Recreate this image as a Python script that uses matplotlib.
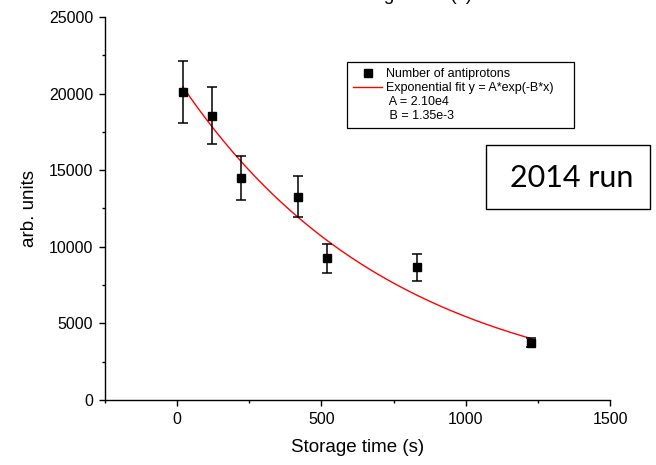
import numpy as np
import matplotlib
matplotlib.use("Agg")
import matplotlib.pyplot as plt
from matplotlib.ticker import MultipleLocator
from matplotlib.lines import Line2D
from matplotlib.patches import Rectangle

plt.rcParams['font.family'] = ['Liberation Sans', 'DejaVu Sans']

# Data
storage_time = [20, 120, 220, 420, 520, 830, 1225]
antiprotons = [20100, 18550, 14500, 13270, 9250, 8650, 3750]
errors = [2000, 1870, 1440, 1320, 930, 850, 300]
fit_A = 2.10e4
fit_B = 1.35e-3
x_ticks = [0, 500, 1000, 1500]
y_ticks = [0, 5000, 10000, 15000, 20000, 25000]

fig = plt.figure(figsize=(6.56, 4.65), dpi=100)
ax = fig.add_axes([105/656, 1-400/465, (610-105)/656, (400-17)/465])

ax.errorbar(storage_time, antiprotons, yerr=errors, fmt='s', color='black',
            ms=5.5, ecolor='black', elinewidth=1.1, capsize=3.3, capthick=1.1,
            zorder=3)
xf = np.linspace(storage_time[0], storage_time[-1], 300)
ax.plot(xf, fit_A*np.exp(-fit_B*xf), color='red', lw=1.0, zorder=2)

ax.set_xlim(-250, 1500)
ax.set_ylim(0, 25000)
ax.set_xticks(x_ticks)
ax.set_yticks(y_ticks)
ax.xaxis.set_minor_locator(MultipleLocator(250))
ax.yaxis.set_minor_locator(MultipleLocator(2500))
ax.spines['top'].set_visible(False)
ax.spines['right'].set_visible(False)
for s in ['left', 'bottom']:
    ax.spines[s].set_linewidth(1.0)
ax.tick_params(which='major', direction='out', length=4.5, width=1.0, labelsize=11.5, pad=4)
ax.tick_params(which='minor', direction='out', length=2.5, width=1.0)
ax.set_xlabel('Storage time (s)', fontsize=13.5, labelpad=9)
ax.set_ylabel('arb. units', fontsize=13.5, labelpad=8)

# cut-off top title
fig.text(406/656, 1+4/465, 'Storage time (s)', ha='center', va='center', fontsize=13.5)

handles = [Line2D([], [], ls='none', marker='s', color='black', ms=5.5),
           Line2D([], [], color='red', lw=1.0),
           Line2D([], [], ls='none'),
           Line2D([], [], ls='none')]
labels = ['Number of antiprotons', 'Exponential fit y = A*exp(-B*x)    ',
          ' A = 2.10e4', ' B = 1.35e-3']
leg = ax.legend(handles, labels, loc='upper left',
                bbox_to_anchor=(347/656, 1-62/465), bbox_transform=fig.transFigure,
                fontsize=9, frameon=True, fancybox=False, framealpha=1,
                edgecolor='black', borderpad=0.5, labelspacing=0.15,
                handlelength=2.3, handletextpad=0.3, borderaxespad=0)
leg.get_frame().set_linewidth(0.9)

# "2014 run" box
rect = Rectangle((486/656, 1-209/465), (650-486)/656, (209-145)/465,
                 transform=fig.transFigure, fill=False, edgecolor='black', lw=1.0)
fig.add_artist(rect)
fig.text(572/656, 1-178/465, '2014 run', ha='center', va='center',
         fontsize=22, family=['Lato', 'DejaVu Sans'])

fig.savefig('out.png', dpi=100)
